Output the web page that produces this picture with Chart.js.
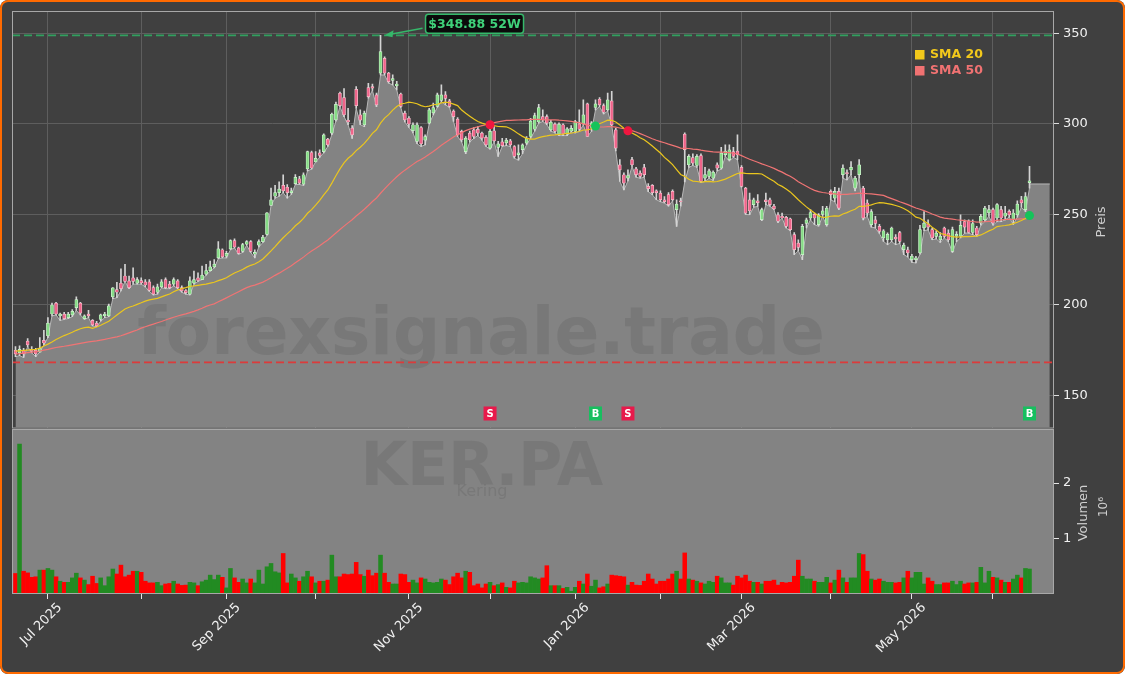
<!DOCTYPE html>
<html>
<head>
<meta charset="utf-8">
<script src="https://cdn.jsdelivr.net/npm/chart.js@4.4.1/dist/chart.umd.min.js"></script>
<style>
  html, body { margin: 0; padding: 0; background: #ffffff; }
  #wrap { position: relative; width: 1125px; height: 674px; background: #404040; border-radius: 8px; overflow: hidden; }
  #frame { position: absolute; left: 0; top: 0; width: 1125px; height: 674px; box-sizing: border-box; border: 2px solid #ff6a00; border-radius: 8px; pointer-events: none; }
  canvas { position: absolute; left: 0; }
  #price { top: 0; }
  #volume { top: 429px; }
</style>
</head>
<body>
<div id="wrap">
  <canvas id="price" width="1125" height="432"></canvas>
  <canvas id="volume" width="1125" height="245"></canvas>
  <div id="frame"></div>
</div>
<script>
// daily candles, Kering (KER.PA), index 0 = first trading day shown
var opens = [175,173.5,175,180,175.5,175,174,180.5,183,195,201,194,195,193,194.5,198.5,201,192.5,195,191.5,
  190,192,194,194,204.5,208.5,212,216,213.3,215,212,213.5,212.8,212.8,209.6,207,210,214,211.5,211.5,
  213.3,209.6,208,206,212,215,214,217,219,221,226,230.5,227,231,235.5,231.5,229.6,233.5,235,228,
  233,235,239,255,260,262,266,265,262,267,269.7,266.7,275.2,284.2,279,284,284.7,291.6,294.9,302.2,
  316.9,314.5,302,297.6,319,305,299.5,320,320.6,316,328,336.2,328,324,321,316.5,305.9,303.1,296.2,290.3,
  298,291,300.4,306,309.6,313,316,312.7,307,302.6,295.8,284.7,294.9,296.7,297,294.9,292.5,286.6,296.2,287,
  290,289.5,290.6,287.5,283,285.7,289.3,293,297,301,304,304,296.7,299.8,294.3,299.5,294.3,296,295.8,300,
  300,311,298,309,313.6,310.1,307.7,312.7,296.7,277.4,271.9,270,280.2,275.2,272.8,275.9,265.5,266,263,261.8,
  258,260.9,262.7,252.6,257.5,294.3,277.4,281.4,277,282.5,270,271,270,277.4,275.5,283,280.2,284.7,285,276,
  264.5,258,255.4,257.5,247.1,258,258.1,254.5,249.8,249,248.4,247.6,238.8,234.2,227.8,245,248,250,244.3,250,
  244.3,262.7,259,262.7,271.9,273,274.6,264.5,271.9,264.5,256.3,244.3,247,243.4,237,236,236,237.5,240,230.5,
  230.5,225,225,228.7,242.5,244.8,241.6,237.9,236,242.5,239.7,229.6,238,238,246,246.5,240,242.5,245.2,247,
  250.8,252.6,248,252.6,249,251.7,247,249.8,258.1,252.6,267.5];
var highs = [177,177.5,176,181.5,177,176,182,186,193,201,201.5,195.5,196,196,197.5,204.5,201.5,194.5,197,192,
  191,195,196,200.5,209.6,212.5,220,222.4,216,220.5,215.1,215,214,214,210.5,211.5,214,215,213,215,
  214,210.5,208.5,215.5,218.7,217.8,221.5,222.4,224.2,225,235,231,229.6,236,236.5,232,234,235.5,235.5,230.5,
  236,238.5,251,264.5,266,268,271.9,266.4,264.5,272,271,273,285,285,284.7,285.7,294.5,292,306,312,
  317.5,319.5,308.6,299,320.6,307.7,307,322.4,322,317,348.88,337,328.5,327,323.5,317,307,304,300.5,300.5,
  298.5,294,308.5,311.4,317,321.5,317.8,313.5,307.7,303.5,296.5,293,296,298,298.5,295.5,293.5,297,298.5,290.3,
  292,292,291.5,288,288.4,289,293,303,306,310.8,307.7,305,302,300.5,300.5,300,298,299,302,307.7,
  313.2,311.4,301.3,313.2,314.5,311,317,318,297.5,280.2,273,274.6,281.5,276,274,277.6,267,266.4,263.6,263,
  259.9,262,263.5,258.1,259,295,283,283.5,283,283.5,276,275,274,278.5,287,288.4,288.4,287,293.9,277,
  265,261.8,259,260.9,253.5,261.8,259,255.5,251,250.8,249,248,240,236,244.5,248,252.6,250.7,250.5,254.4,
  254.5,263.6,265,264.5,277.4,274.6,279.2,271,280.2,265.5,258,252.6,248.9,244.5,241.6,239.8,243,238.8,240.6,234.2,
  232,228,226.9,244,251.6,247,242.5,241,240,243,241.5,243,240.5,249.8,247,247,247,243.4,250,254.5,
  255,253.5,256,254.4,254.4,252.5,252.6,257.5,260,262,276.5];
var lows = [171.5,172,171,177,173.5,171.5,174,178,182,194,194.5,191.5,192,192.5,193.5,197,194.5,192,193,188.5,
  188,191,193,193.5,203.5,204,207.8,213,209,211.5,211.5,211.5,210,207.5,205.5,206,209.5,209,209,210.5,
  209,207,206,205.5,211.5,213,214,216.5,218.7,220.5,225.5,226,226,230.5,231.5,228,229,233,229,226,
  232,234.5,238.5,255,259,260,262,259,261,266.5,266.5,266,274,275,279,281.5,284,287.5,294,301.5,
  309.5,304,299.5,292,308.6,299.5,298.5,314.2,318.5,309.5,327,327,322.5,321.5,318.7,309,301,298,295,289,
  287.5,288.4,300,304.9,309,312.3,310.5,309,301.3,293,290,283.5,290,292,293.5,291,287.5,286,290,282,
  287.5,288,287.5,281,280,283.5,288.5,292,296,300.4,301.3,299.5,296,295,293.5,293.5,293.5,295.5,295,295.8,
  299.4,293,295.8,307.7,309.5,305.5,307,299,285,268.2,263.5,268.5,276.5,270.5,270,270.5,262.5,260.9,258.1,257,
  256.3,254.5,257.5,243.4,254.5,268,276,277,276,267.5,268.2,270,268.7,274,275,282,279.5,281.5,280.2,265,
  250,249.8,254,254.4,246.5,255.4,254.5,252.6,245.5,248,242.5,241,227.8,230,225,242.5,247,244.3,243.5,249,
  243.5,258,257,252.6,270,269,272,263,270.1,247,249,243,242.5,239.5,235.1,233.3,235,233.3,234,227.8,
  226.5,223.5,223.2,228,241,241.5,236,236.5,234.5,237,235,229,235,237,239.7,239.7,238.8,237.9,244,246,
  249,244,246,246,247,248.5,244.5,248.5,254,251.5,264.5];
var closes = [173,175.5,173,178,174.5,173,176,179,190,200,195,195,192.5,195,196.5,203,195.5,194,194,189,
  188.5,194.5,195,199.5,209.5,207,209,213,209.6,213,214,212.2,211,208,206,210,212.8,209.6,209.6,214,
  209.6,207.8,206.8,213.3,214,213.5,216.5,219,221,222.5,231,226.5,228.5,235.5,232,228.5,233.3,235,229.6,229,
  235,237.5,250.9,258,262,264,263,262,263,270.5,267.3,271.9,284.7,275.6,281,282.5,293.9,288.4,305.3,310.8,
  310,305,301,293.9,310,302,305.9,315,319.7,310.5,339.9,328,323.3,325,322,309.6,302.2,299.8,299.5,299.5,
  289,293,307.7,309,316,316,314,309.6,304,294,291.2,292.1,291.2,293,294.9,292.1,288.4,295.8,290.6,289,
  288,291,288.4,282,284,288.4,292.1,301.5,304.5,309,302,300.4,300.9,295.8,299.8,294.3,297.2,297.5,301.3,297,
  305,293,300.5,311,310.5,306.4,313.2,299.5,286.6,274.6,267.3,271.5,277.4,271.9,271,271.9,264.2,262,262,258.1,
  257,255.4,258.1,255.7,257,285.7,282,278.3,282,268.2,272,274,273.4,275.5,283.8,285,285.7,282,283,265.5,
  250.7,252,258.1,256.5,252.6,257,255.4,253,246.2,248,243.4,241.6,230.5,231.8,243.4,247,251,248,249.8,252,
  253.5,260.9,262.7,253.5,275.6,272.5,276,270,277.4,248,250.7,251.6,245,240.6,241,239,242.5,236.5,235.1,233,
  228.7,226.9,226,241.6,245.2,243,237,239.7,238,237.9,236,241.6,239,244,243,240,245,238.8,248.9,253.5,
  252.6,245.2,255.4,248,250.8,249.8,250.8,255.7,256.3,259.9,268.6];
// volume in millions of shares
var volumeM = [0.37,2.70,0.41,0.38,0.30,0.31,0.43,0.43,0.46,0.43,0.31,0.23,0.21,0.21,0.29,0.375,0.29,0.25,0.17,0.32,
  0.19,0.29,0.15,0.31,0.45,0.36,0.52,0.31,0.34,0.41,0.41,0.39,0.23,0.20,0.20,0.21,0.15,0.18,0.19,0.23,
  0.18,0.155,0.16,0.21,0.20,0.15,0.22,0.25,0.34,0.26,0.34,0.30,0.11,0.46,0.29,0.21,0.27,0.20,0.27,0.20,
  0.43,0.18,0.49,0.55,0.40,0.38,0.73,0.20,0.36,0.29,0.23,0.31,0.41,0.31,0.20,0.23,0.23,0.25,0.70,0.31,
  0.31,0.36,0.35,0.36,0.57,0.35,0.32,0.43,0.33,0.375,0.70,0.375,0.21,0.18,0.18,0.36,0.35,0.21,0.25,0.20,
  0.29,0.27,0.21,0.20,0.21,0.27,0.25,0.17,0.31,0.375,0.29,0.41,0.39,0.15,0.18,0.11,0.18,0.21,0.15,0.17,
  0.20,0.12,0.11,0.23,0.20,0.21,0.20,0.31,0.29,0.27,0.29,0.51,0.15,0.15,0.15,0.10,0.12,0.05,0.12,0.23,
  0.18,0.36,0.14,0.25,0.11,0.13,0.18,0.34,0.33,0.32,0.31,0.16,0.21,0.16,0.155,0.23,0.36,0.27,0.18,0.23,
  0.23,0.27,0.36,0.41,0.27,0.74,0.27,0.25,0.23,0.20,0.18,0.23,0.21,0.32,0.29,0.20,0.20,0.16,0.32,0.29,
  0.34,0.23,0.21,0.21,0.18,0.23,0.23,0.25,0.16,0.21,0.20,0.21,0.32,0.61,0.32,0.27,0.27,0.23,0.21,0.21,
  0.30,0.20,0.25,0.43,0.29,0.21,0.29,0.29,0.73,0.71,0.41,0.27,0.25,0.27,0.23,0.21,0.21,0.20,0.21,0.29,
  0.41,0.29,0.39,0.39,0.18,0.29,0.23,0.17,0.17,0.20,0.20,0.23,0.17,0.23,0.18,0.20,0.20,0.21,0.48,0.20,
  0.41,0.30,0.29,0.25,0.21,0.21,0.27,0.34,0.29,0.46,0.45];
// moving averages before a full window exists
var sma20Head = [174.5,174.7,174.9,175.1,175.3,175.5,176.2,177.3,178.4,179.6,180.9,182.0,183.1,184.0,184.9,186.0,186.9,187.5,187.8];
var sma50Head = [172.9,173.1,173.4,173.7,174.0,174.2,174.6,175.1,175.5,176.0,176.5,176.9,177.2,177.6,178.0,178.4,178.8,179.2,179.6,179.9,
  180.2,180.6,181.0,181.5,182.0,182.4,183.0,183.8,184.6,185.4,186.2,187.2,188.0,188.7,189.4,190.2,190.9,191.7,192.5,193.2,
  193.9,194.5,195.1,195.8,196.5,197.3,198.2,199.2,200.0];
var monthTickIdx = [8,31,52,74,97,117,138,159,179,201,221,241];
var monthTickLabels = ['Jul 2025','','Sep 2025','','Nov 2025','','Jan 2026','','Mar 2026','','May 2026',''];
var priceTicks = [150,200,250,300,350];
var volumeTicks = [1,2];
var sellIdx = [117,151];
var buyIdx = [143,250];
var high52 = 348.88;
var low52 = 168.3;
var lastBlock = 266.8;   // flat fill after the last candle
var blockEnd = 255;

var n = closes.length;
var idx = closes.map(function (c, i) { return i; });
function sma(head, w) {
  return closes.map(function (c, i) {
    if (i < head.length) return head[i];
    var s = 0;
    for (var k = i - w + 1; k <= i; k++) s += closes[k];
    return s / w;
  });
}
var sma20 = sma(sma20Head, 20);
var sma50 = sma(sma50Head, 50);
var up = closes.map(function (c, i) { return c >= opens[i]; });

var xMin = -0.86, xMax = 256.04;
var FONT = '"DejaVu Sans", sans-serif';
var gridColor = '#5e5e5e';
var tickText = '#f0f0f0';

function fixTicks(list) {
  return function (s) { s.ticks = list.map(function (v) { return { value: v }; }); };
}
function noPad(s) {
  s.paddingTop = 0; s.paddingBottom = 0; s.paddingLeft = 0; s.paddingRight = 0;
}

var priceOverlay = {
  id: 'priceOverlay',
  afterDatasetDraw: function (chart, args) {
    if (args.index !== 0) return;
    var ctx = chart.ctx, a = chart.chartArea, y = chart.scales.y;
    ctx.save();
    ctx.beginPath();
    ctx.rect(a.left, a.top, a.right - a.left, a.bottom - a.top);
    ctx.clip();
    ctx.font = 'bold 66px ' + FONT;
    ctx.fillStyle = 'rgba(60,60,60,0.16)';
    ctx.textAlign = 'center';
    ctx.textBaseline = 'alphabetic';
    ctx.fillText('forexsignale.trade', 481, 354);
    ctx.lineWidth = 1.8;
    ctx.setLineDash([8, 4]);
    [[high52, '#31a05f'], [low52, '#dc3b3b']].forEach(function (l) {
      var py = y.getPixelForValue(l[0]);
      ctx.strokeStyle = l[1];
      ctx.beginPath();
      ctx.moveTo(a.left, py);
      ctx.lineTo(a.right, py);
      ctx.stroke();
    });
    ctx.restore();
  },
  afterDraw: function (chart) {
    var ctx = chart.ctx, a = chart.chartArea, x = chart.scales.x, y = chart.scales.y;
    ctx.save();
    // frame
    ctx.strokeStyle = '#a8a8a8';
    ctx.lineWidth = 1;
    ctx.strokeRect(a.left + 0.5, a.top + 0.5, a.right - a.left - 1, a.bottom - a.top);

    // buy / sell tags
    ctx.font = 'bold 10px ' + FONT;
    ctx.textAlign = 'center';
    ctx.textBaseline = 'middle';
    function tag(i, txt, col) {
      var px = x.getPixelForValue(i), py = a.bottom - 14;
      ctx.fillStyle = col;
      ctx.fillRect(px - 6.5, py - 7, 13, 14);
      ctx.fillStyle = '#ffffff';
      ctx.fillText(txt, px, py + 0.5);
    }
    sellIdx.forEach(function (i) { tag(i, 'S', '#e8194b'); });
    buyIdx.forEach(function (i) { tag(i, 'B', '#17bf5f'); });

    // legend
    ctx.font = 'bold 12.5px ' + FONT;
    ctx.textAlign = 'left';
    [['SMA 20', '#f2c81b', 54.5], ['SMA 50', '#f07272', 70.5]].forEach(function (r) {
      ctx.fillStyle = r[1];
      ctx.fillRect(915, r[2] - 4.5, 9.5, 9.5);
      ctx.fillText(r[0], 930, r[2]);
    });

    // 52 week high label
    var hiIdx = highs.indexOf(Math.max.apply(null, highs));
    var tipX = x.getPixelForValue(hiIdx) + 4, tipY = y.getPixelForValue(high52);
    var bx = tipX + 41, by = tipY - 21, bw = 98, bh = 19;
    ctx.strokeStyle = '#35b86a';
    ctx.fillStyle = '#35b86a';
    ctx.lineWidth = 1.5;
    ctx.beginPath();
    ctx.moveTo(bx - 3, by + 14);
    ctx.lineTo(tipX + 6, tipY - 1);
    ctx.stroke();
    ctx.beginPath();
    ctx.moveTo(tipX, tipY);
    ctx.lineTo(tipX + 9, tipY - 5);
    ctx.lineTo(tipX + 8, tipY + 2);
    ctx.closePath();
    ctx.fill();
    ctx.fillStyle = '#0b0b0b';
    ctx.beginPath();
    ctx.roundRect(bx, by, bw, bh, 3);
    ctx.fill();
    ctx.stroke();
    ctx.fillStyle = '#3fd27a';
    ctx.font = 'bold 12.5px ' + FONT;
    ctx.textAlign = 'center';
    ctx.fillText('$' + high52.toFixed(2) + ' 52W', bx + bw / 2, by + bh / 2 + 0.5);

    // axis title
    ctx.translate(1102, 222);
    ctx.rotate(-Math.PI / 2);
    ctx.fillStyle = '#cfcfcf';
    ctx.font = '13px ' + FONT;
    ctx.fillText('Preis', 0, 0);
    ctx.restore();
  }
};

new Chart(document.getElementById('price'), {
  type: 'bar',
  data: {
    datasets: [
      {
        type: 'line',
        data: lows.map(function (v, i) { return { x: i, y: v }; })
          .concat([{ x: n - 1, y: lastBlock }, { x: blockEnd, y: lastBlock }]),
        fill: 'start',
        backgroundColor: '#838383',
        borderColor: '#b8b8b8',
        borderWidth: 1,
        pointRadius: 0,
        tension: 0,
        order: 10
      },
      {
        data: idx.map(function (i) { return { x: i, y: [lows[i], highs[i]] }; }),
        backgroundColor: '#d4d4d4',
        barThickness: 1,
        grouped: false,
        order: 6
      },
      {
        data: idx.map(function (i) { return { x: i, y: [opens[i], closes[i]] }; }),
        backgroundColor: up.map(function (u) { return u ? '#86dc86' : '#f0648a'; }),
        borderColor: up.map(function (u) { return u ? '#d2f5d2' : '#f8c0ce'; }),
        borderWidth: 0.7,
        borderSkipped: false,
        barThickness: 3,
        minBarLength: 1,
        grouped: false,
        order: 5
      },
      {
        type: 'line',
        data: idx.map(function (i) { return { x: i, y: sma50[i] }; }),
        borderColor: '#f07474',
        borderWidth: 1.2,
        pointRadius: 0,
        order: 4
      },
      {
        type: 'line',
        data: idx.map(function (i) { return { x: i, y: sma20[i] }; }),
        borderColor: '#ebc61e',
        borderWidth: 1.2,
        pointRadius: 0,
        order: 3
      },
      {
        type: 'scatter',
        data: sellIdx.map(function (i) { return { x: i, y: sma20[i] }; }),
        backgroundColor: '#f0163f',
        borderWidth: 0,
        pointRadius: 4.5,
        order: 2
      },
      {
        type: 'scatter',
        data: buyIdx.map(function (i) { return { x: i, y: sma20[i] }; }),
        backgroundColor: '#14c45a',
        borderWidth: 0,
        pointRadius: 4.5,
        order: 1
      }
    ]
  },
  options: {
    responsive: false,
    animation: false,
    layout: { padding: { left: 12, top: 11, right: 0, bottom: 1 } },
    plugins: { legend: { display: false }, tooltip: { enabled: false } },
    scales: {
      x: {
        type: 'linear', min: xMin, max: xMax, offset: false,
        grid: { color: gridColor, drawTicks: false, offset: false },
        border: { display: false },
        ticks: { display: false },
        afterBuildTicks: fixTicks(monthTickIdx),
        afterFit: function (s) { s.height = 0; noPad(s); }
      },
      y: {
        position: 'right', min: 132.35, max: 362.3,
        grid: { color: gridColor, tickColor: '#dddddd', tickLength: 5 },
        border: { display: false },
        ticks: { color: tickText, padding: 4, font: { family: FONT, size: 13 } },
        afterBuildTicks: fixTicks(priceTicks),
        afterFit: function (s) { s.width = 71; noPad(s); }
      }
    }
  },
  plugins: [priceOverlay]
});

var volumeOverlay = {
  id: 'volumeOverlay',
  beforeDatasetsDraw: function (chart) {
    var ctx = chart.ctx, a = chart.chartArea;
    ctx.save();
    ctx.fillStyle = '#838383';
    ctx.fillRect(a.left, a.top, a.right - a.left, a.bottom - a.top);
    ctx.textAlign = 'center';
    ctx.textBaseline = 'alphabetic';
    ctx.fillStyle = 'rgba(60,60,60,0.14)';
    ctx.font = 'bold 60px ' + FONT;
    ctx.fillText('KER.PA', 482, 56);
    ctx.font = '16px ' + FONT;
    ctx.fillText('Kering', 482, 67);
    ctx.restore();
  },
  afterDraw: function (chart) {
    var ctx = chart.ctx, a = chart.chartArea;
    ctx.save();
    ctx.strokeStyle = '#a8a8a8';
    ctx.lineWidth = 1;
    ctx.strokeRect(a.left + 0.5, a.top - 0.5, a.right - a.left - 1, a.bottom - a.top);
    ctx.fillStyle = '#cfcfcf';
    ctx.textAlign = 'center';
    ctx.textBaseline = 'middle';
    ctx.save();
    ctx.translate(1083.5, 84);
    ctx.rotate(-Math.PI / 2);
    ctx.font = '13px ' + FONT;
    ctx.fillText('Volumen', 0, 0);
    ctx.restore();
    ctx.translate(1103.5, 78);
    ctx.rotate(-Math.PI / 2);
    ctx.font = '12px ' + FONT;
    ctx.fillText('10\u2076', 0, 0);
    ctx.restore();
  }
};

new Chart(document.getElementById('volume'), {
  type: 'bar',
  data: {
    datasets: [{
      data: idx.map(function (i) { return { x: i, y: volumeM[i] }; }),
      backgroundColor: up.map(function (u) { return u ? '#228b22' : '#ff0000'; }),
      barThickness: 3.9,
      borderWidth: 0
    }]
  },
  options: {
    responsive: false,
    animation: false,
    layout: { padding: { left: 12, top: 1, right: 0, bottom: 0 } },
    plugins: { legend: { display: false }, tooltip: { enabled: false } },
    scales: {
      x: {
        type: 'linear', min: xMin, max: xMax, offset: false,
        grid: { drawOnChartArea: false, tickColor: '#e6e6e6', tickLength: 5, offset: false },
        border: { display: false },
        ticks: {
          color: tickText, font: { family: FONT, size: 13 },
          autoSkip: false, maxRotation: 45, minRotation: 45, padding: 1, labelOffset: 12,
          callback: function (v) {
            var k = monthTickIdx.indexOf(v);
            return k < 0 ? '' : monthTickLabels[k];
          }
        },
        afterBuildTicks: fixTicks(monthTickIdx),
        afterFit: function (s) { s.height = 80; noPad(s); }
      },
      y: {
        position: 'right', min: 0, max: 2.955,
        grid: { drawOnChartArea: false, tickColor: '#e6e6e6', tickLength: 5 },
        border: { display: false },
        ticks: { color: tickText, padding: 4, font: { family: FONT, size: 13 } },
        afterBuildTicks: fixTicks(volumeTicks),
        afterFit: function (s) { s.width = 71; noPad(s); }
      }
    }
  },
  plugins: [volumeOverlay]
});
</script>
</body>
</html>
